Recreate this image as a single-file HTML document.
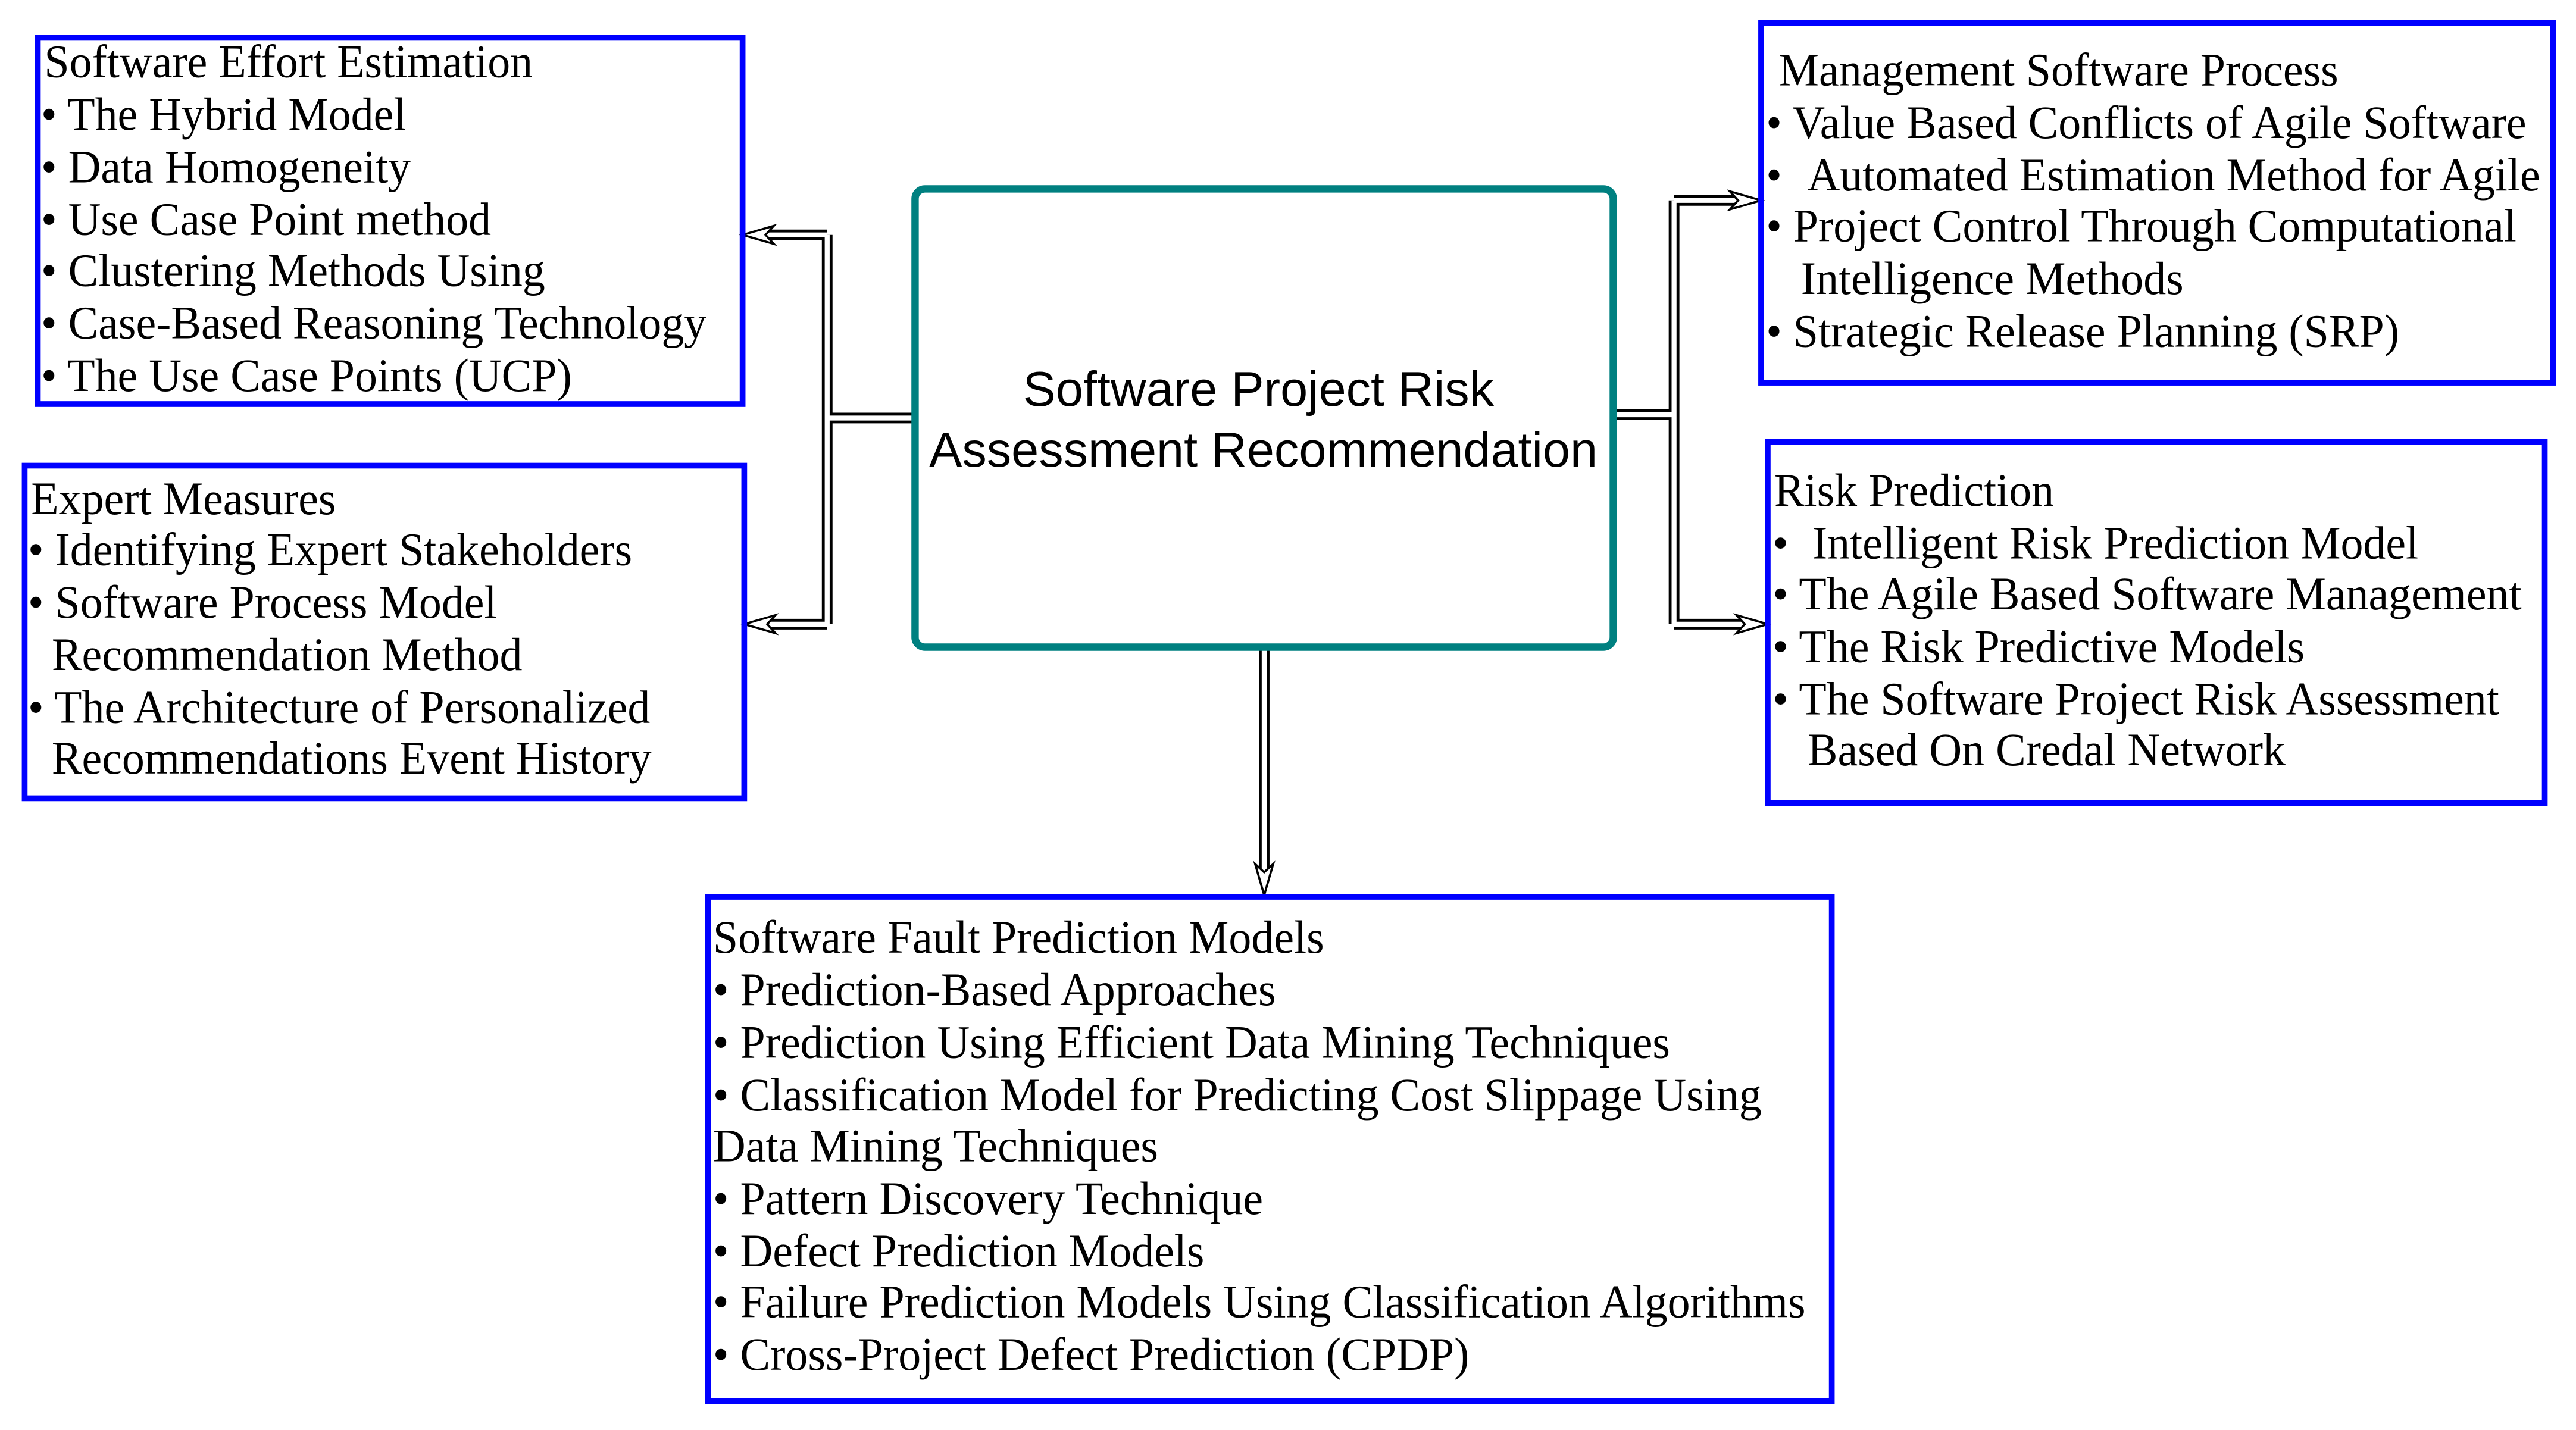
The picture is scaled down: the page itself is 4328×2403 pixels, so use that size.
<!DOCTYPE html>
<html><head><meta charset="utf-8"><style>
html,body{margin:0;padding:0;background:#fff}
svg{display:block}
.t{font-family:"Liberation Serif",serif;font-size:28.5px;fill:#000}
.c{font-family:"Liberation Sans",sans-serif;font-size:30px;fill:#000}
</style></head><body>
<svg width="4328" height="2403" viewBox="0 0 1568 870.6" xmlns="http://www.w3.org/2000/svg">
<rect width="1568" height="871" fill="#fff"/>
<g fill="none" stroke-linejoin="miter">
 <g stroke="#000" stroke-width="6.5">
  <path d="M557 254.5 H503.5 M503.5 143 V380 M503.5 143 H462 M503.5 380 H462"/>
  <path d="M982 252.5 H1019 M1019 122 V380 M1019 122 H1062 M1019 380 H1066"/>
  <path d="M769.5 394 V535"/>
 </g>
 <g stroke="#fff" stroke-width="3">
  <path d="M555 254.5 H503.5 M503.5 143 V380 M503.5 143 H464 M503.5 380 H464"/>
  <path d="M984 252.5 H1019 M1019 122 V380 M1019 122 H1064 M1019 380 H1068"/>
  <path d="M769.5 396 V536"/>
 </g>
</g>
<g fill="#fff" stroke="#000" stroke-width="1.3" stroke-linejoin="miter">
 <polygon points="452,143 471,137.5 466,143 471,148.5"/>
 <polygon points="453,380 472,374.5 467,380 472,385.5"/>
 <polygon points="1072,122 1053,116.5 1058,122 1053,127.5"/>
 <polygon points="1076,380 1057,374.5 1062,380 1057,385.5"/>
 <polygon points="769.5,545 764,526 769.5,531 775,526"/>
</g>
<rect x="557" y="115" width="425" height="279" rx="6" fill="#fff" stroke="#008080" stroke-width="4.5"/>
<text class="c" x="766" y="247" text-anchor="middle">Software Project Risk</text>
<text class="c" x="769" y="284" text-anchor="middle">Assessment Recommendation</text>
<g fill="none" stroke="#0000ff" stroke-width="3.5">
 <rect x="23" y="23" width="429" height="223"/>
 <rect x="15" y="283.5" width="438" height="202.5"/>
 <rect x="1072" y="14" width="482" height="219"/>
 <rect x="1076" y="269" width="473" height="220"/>
 <rect x="431" y="546" width="684" height="307"/>
</g>
<g class="t" transform="translate(25 0) scale(0.965 1) translate(-25 0)">
 <text x="27" y="47">Software Effort Estimation</text>
 <text x="25" y="79">• The Hybrid Model</text>
 <text x="25" y="111">• Data Homogeneity</text>
 <text x="25" y="143">• Use Case Point method</text>
 <text x="25" y="174">• Clustering Methods Using</text>
 <text x="25" y="206">• Case-Based Reasoning Technology</text>
 <text x="25" y="238">• The Use Case Points (UCP)</text>
</g>
<g class="t" transform="translate(17 0) scale(0.965 1) translate(-17 0)">
 <text x="19" y="313">Expert Measures</text>
 <text x="17" y="344">• Identifying Expert Stakeholders</text>
 <text x="17" y="376">• Software Process Model</text>
 <text x="32" y="408">Recommendation Method</text>
 <text x="17" y="440">• The Architecture of Personalized</text>
 <text x="32" y="471">Recommendations Event History</text>
</g>
<g class="t" transform="translate(1075 0) scale(0.965 1) translate(-1075 0)">
 <text x="1083" y="52">Management Software Process</text>
 <text x="1075" y="84">• Value Based Conflicts of Agile Software</text>
 <text x="1075" y="116">•<tspan x="1101">Automated Estimation Method for Agile</tspan></text>
 <text x="1075" y="147">• Project Control Through Computational</text>
 <text x="1097" y="179">Intelligence Methods</text>
 <text x="1075" y="211">• Strategic Release Planning (SRP)</text>
</g>
<g class="t" transform="translate(1079 0) scale(0.965 1) translate(-1079 0)">
 <text x="1080" y="308">Risk Prediction</text>
 <text x="1079" y="340">•<tspan x="1104">Intelligent Risk Prediction Model</tspan></text>
 <text x="1079" y="371">• The Agile Based Software Management</text>
 <text x="1079" y="403">• The Risk Predictive Models</text>
 <text x="1079" y="435">• The Software Project Risk Assessment</text>
 <text x="1101" y="466">Based On Credal Network</text>
</g>
<g class="t" transform="translate(434 0) scale(0.965 1) translate(-434 0)">
 <text x="434" y="580">Software Fault Prediction Models</text>
 <text x="434" y="612">• Prediction-Based Approaches</text>
 <text x="434" y="644">• Prediction Using Efficient Data Mining Techniques</text>
 <text x="434" y="676">• Classification Model for Predicting Cost Slippage Using</text>
 <text x="434" y="707">Data Mining Techniques</text>
 <text x="434" y="739">• Pattern Discovery Technique</text>
 <text x="434" y="771">• Defect Prediction Models</text>
 <text x="434" y="802">• Failure Prediction Models Using Classification Algorithms</text>
 <text x="434" y="834">• Cross-Project Defect Prediction (CPDP)</text>
</g>
</svg>
</body></html>
